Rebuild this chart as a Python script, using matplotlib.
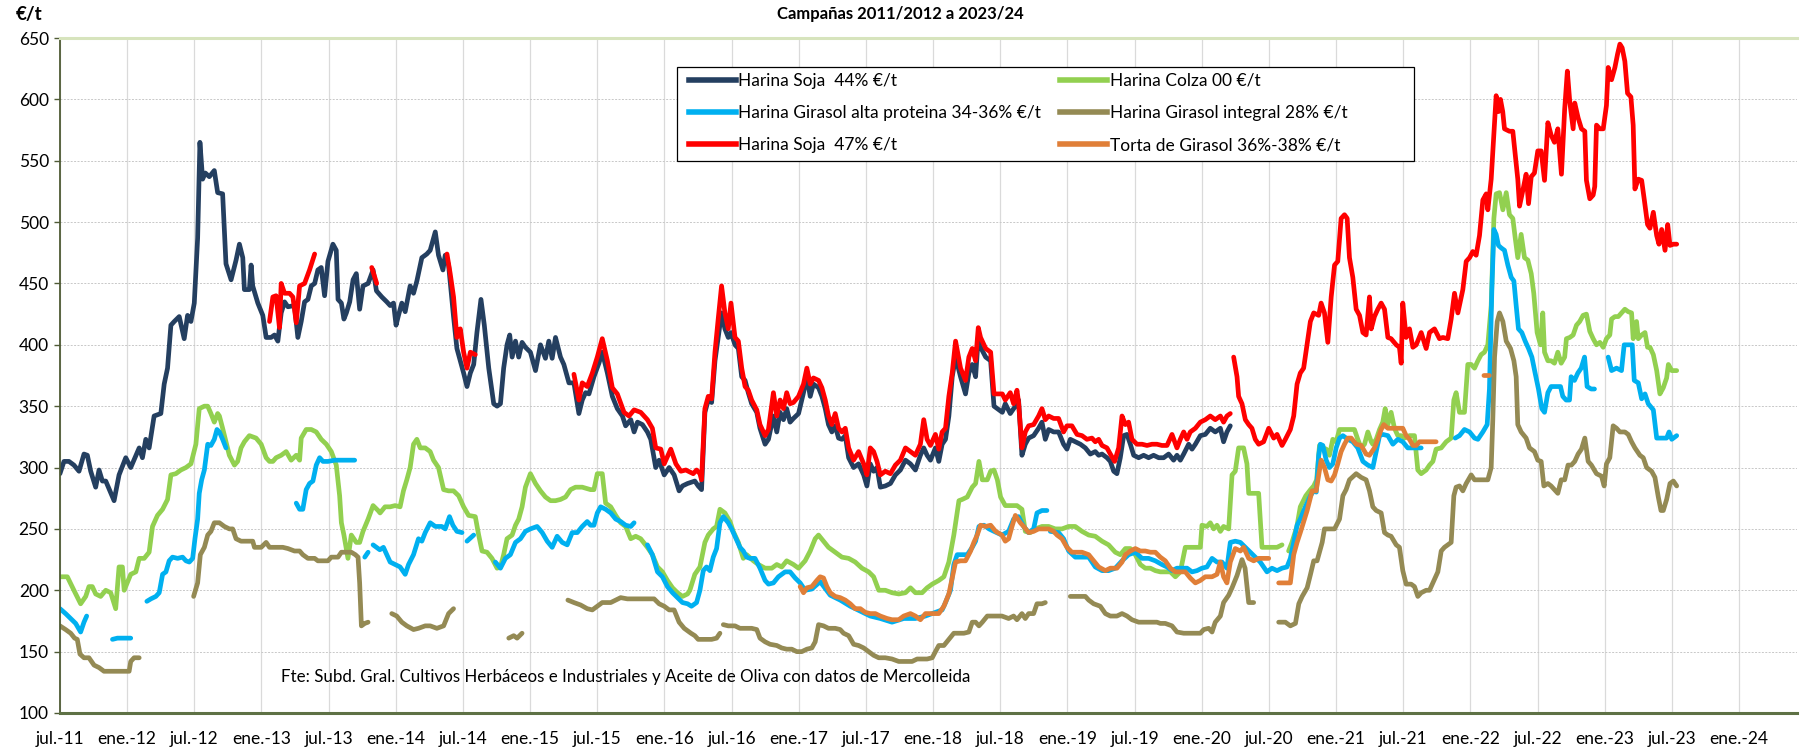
import matplotlib
matplotlib.use('Agg')
import matplotlib.pyplot as plt
from matplotlib.lines import Line2D
from matplotlib.patches import Rectangle

nan = float('nan')

# x = decimal year, y = EUR/t ; (x, nan) breaks the line
soja44 = [
    (2011.500, 295), (2011.530, 305), (2011.567, 305), (2011.604, 302), (2011.642, 297), (2011.679, 311),
    (2011.704, 310), (2011.729, 297), (2011.766, 284), (2011.791, 298), (2011.816, 289), (2011.841, 289),
    (2011.903, 273), (2011.940, 294), (2011.990, 308), (2012.027, 300), (2012.090, 316), (2012.114, 308),
    (2012.139, 323), (2012.164, 316), (2012.201, 342), (2012.251, 344), (2012.276, 368), (2012.301, 381),
    (2012.326, 416), (2012.351, 419), (2012.388, 423), (2012.425, 405), (2012.450, 424), (2012.475, 419),
    (2012.500, 434), (2012.525, 487), (2012.542, 565), (2012.562, 535), (2012.582, 540), (2012.612, 537),
    (2012.649, 542), (2012.674, 524), (2012.711, 523), (2012.736, 466), (2012.774, 453), (2012.811, 469),
    (2012.836, 482), (2012.861, 471), (2012.873, 445), (2012.910, 445), (2012.923, 465), (2012.935, 448),
    (2012.973, 434), (2013.010, 424), (2013.035, 406), (2013.072, 406), (2013.097, 408), (2013.122, 403),
    (2013.147, 426), (2013.172, 435), (2013.197, 431), (2013.246, 432), (2013.271, 406), (2013.296, 419),
    (2013.321, 435), (2013.346, 437), (2013.371, 448), (2013.396, 450), (2013.420, 461), (2013.445, 463),
    (2013.470, 440), (2013.495, 468), (2013.532, 482), (2013.557, 477), (2013.570, 437), (2013.595, 434),
    (2013.614, 421), (2013.632, 426), (2013.657, 435), (2013.682, 453), (2013.706, 458), (2013.731, 429),
    (2013.756, 448), (2013.794, 450), (2013.831, 461), (2013.856, 444), (2013.896, 439), (2013.933, 435),
    (2013.958, 432), (2013.983, 434), (2014.002, 416), (2014.020, 424), (2014.045, 434), (2014.070, 427),
    (2014.107, 448), (2014.132, 442), (2014.157, 452), (2014.194, 471), (2014.231, 474), (2014.256, 477),
    (2014.294, 492), (2014.318, 473), (2014.351, 461), (2014.368, 473), (2014.393, 465), (2014.430, 423),
    (2014.455, 397), (2014.480, 387), (2014.505, 377), (2014.530, 366), (2014.555, 377), (2014.580, 384),
    (2014.604, 410), (2014.634, 437), (2014.659, 416), (2014.692, 381), (2014.729, 352), (2014.754, 350),
    (2014.779, 352), (2014.803, 381), (2014.828, 400), (2014.848, 408), (2014.866, 390), (2014.891, 403),
    (2014.915, 390), (2014.940, 402), (2014.965, 398), (2015.002, 394), (2015.040, 379), (2015.077, 400),
    (2015.114, 389), (2015.139, 403), (2015.164, 389), (2015.189, 406), (2015.226, 390), (2015.251, 384),
    (2015.289, 369), (2015.326, 369), (2015.363, 344), (2015.388, 355), (2015.413, 361), (2015.438, 360),
    (2015.475, 374), (2015.512, 385), (2015.537, 394), (2015.575, 377), (2015.612, 358), (2015.649, 348),
    (2015.687, 342), (2015.711, 334), (2015.749, 339), (2015.774, 329), (2015.799, 337), (2015.836, 335),
    (2015.873, 329), (2015.898, 323), (2015.935, 300), (2015.960, 306), (2015.998, 294), (2016.035, 300),
    (2016.072, 294), (2016.109, 281), (2016.134, 285), (2016.172, 287), (2016.226, 289), (2016.251, 285),
    (2016.276, 282), (2016.301, 345), (2016.326, 355), (2016.351, 353), (2016.376, 387), (2016.400, 406),
    (2016.425, 426), (2016.450, 413), (2016.475, 406), (2016.495, 410), (2016.525, 400), (2016.550, 397),
    (2016.575, 374), (2016.600, 371), (2016.624, 361), (2016.649, 352), (2016.687, 345), (2016.711, 332),
    (2016.749, 319), (2016.774, 323), (2016.811, 342), (2016.836, 329), (2016.861, 345), (2016.886, 339),
    (2016.910, 348), (2016.935, 337), (2016.960, 340), (2016.998, 344), (2017.035, 361), (2017.060, 374),
    (2017.085, 358), (2017.109, 368), (2017.147, 365), (2017.172, 358), (2017.197, 348), (2017.221, 335),
    (2017.246, 329), (2017.271, 334), (2017.296, 324), (2017.321, 323), (2017.346, 326), (2017.371, 308),
    (2017.408, 300), (2017.445, 303), (2017.483, 294), (2017.507, 285), (2017.532, 303), (2017.557, 297),
    (2017.582, 300), (2017.607, 284), (2017.644, 285), (2017.682, 287), (2017.719, 294), (2017.756, 298),
    (2017.794, 306), (2017.831, 303), (2017.868, 298), (2017.905, 310), (2017.930, 316), (2017.955, 310),
    (2017.980, 306), (2018.017, 316), (2018.042, 305), (2018.067, 319), (2018.092, 323), (2018.117, 342),
    (2018.142, 374), (2018.167, 390), (2018.204, 374), (2018.241, 360), (2018.266, 377), (2018.291, 384),
    (2018.316, 374), (2018.336, 406), (2018.353, 398), (2018.391, 390), (2018.428, 387), (2018.453, 350),
    (2018.478, 348), (2018.515, 345), (2018.537, 352), (2018.574, 344), (2018.612, 350), (2018.636, 355),
    (2018.661, 310), (2018.686, 319), (2018.711, 324), (2018.748, 326), (2018.785, 332), (2018.810, 337),
    (2018.835, 323), (2018.860, 331), (2018.897, 329), (2018.934, 329), (2018.971, 319), (2018.996, 315),
    (2019.021, 323), (2019.058, 321), (2019.096, 319), (2019.133, 316), (2019.170, 311), (2019.207, 313),
    (2019.232, 310), (2019.257, 311), (2019.294, 308), (2019.319, 305), (2019.344, 297), (2019.368, 295),
    (2019.393, 308), (2019.418, 326), (2019.443, 327), (2019.468, 319), (2019.493, 310), (2019.530, 308),
    (2019.567, 310), (2019.604, 308), (2019.641, 310), (2019.679, 308), (2019.716, 308), (2019.753, 311),
    (2019.790, 306), (2019.815, 310), (2019.840, 306), (2019.865, 311), (2019.902, 319), (2019.927, 315),
    (2019.952, 319), (2019.989, 326), (2020.026, 327), (2020.063, 332), (2020.100, 329), (2020.138, 332),
    (2020.162, 321), (2020.187, 329), (2020.212, 334),
]

soja47 = [
    (2013.060, 419), (2013.085, 439), (2013.109, 440), (2013.134, 414), (2013.147, 450), (2013.172, 442),
    (2013.209, 442), (2013.234, 439), (2013.259, 418), (2013.284, 448), (2013.321, 450), (2013.358, 461),
    (2013.396, 474), (2013.600, nan),
    (2013.821, 463), (2013.858, 450), (2014.100, nan),
    (2014.381, 474), (2014.405, 458), (2014.430, 439), (2014.455, 406), (2014.480, 413), (2014.505, 394),
    (2014.530, 381), (2014.555, 394), (2014.592, 392), (2015.000, nan),
    (2015.326, 376), (2015.363, 355), (2015.388, 369), (2015.425, 366), (2015.463, 377), (2015.500, 390),
    (2015.537, 405), (2015.575, 387), (2015.612, 365), (2015.649, 360), (2015.699, 345), (2015.736, 342),
    (2015.774, 347), (2015.823, 345), (2015.873, 339), (2015.910, 332), (2015.935, 316), (2015.973, 315),
    (2015.998, 303), (2016.047, 315), (2016.085, 303), (2016.122, 297), (2016.159, 298), (2016.214, 295),
    (2016.239, 298), (2016.264, 295), (2016.276, 290), (2016.301, 348), (2016.326, 358), (2016.351, 356),
    (2016.376, 394), (2016.400, 421), (2016.425, 448), (2016.450, 426), (2016.475, 413), (2016.495, 434),
    (2016.525, 406), (2016.550, 403), (2016.575, 381), (2016.600, 366), (2016.624, 363), (2016.649, 355),
    (2016.687, 347), (2016.711, 335), (2016.749, 326), (2016.774, 331), (2016.811, 361), (2016.836, 342),
    (2016.861, 355), (2016.886, 348), (2016.910, 361), (2016.935, 352), (2016.960, 353), (2016.998, 358),
    (2017.035, 368), (2017.060, 381), (2017.085, 368), (2017.109, 373), (2017.147, 371), (2017.172, 365),
    (2017.197, 355), (2017.221, 342), (2017.246, 335), (2017.271, 344), (2017.296, 332), (2017.321, 329),
    (2017.346, 332), (2017.371, 316), (2017.408, 306), (2017.445, 313), (2017.483, 303), (2017.507, 294),
    (2017.532, 316), (2017.557, 313), (2017.582, 305), (2017.607, 294), (2017.644, 297), (2017.682, 295),
    (2017.719, 302), (2017.756, 306), (2017.794, 316), (2017.831, 313), (2017.868, 310), (2017.905, 319),
    (2017.930, 339), (2017.955, 323), (2017.980, 318), (2018.017, 327), (2018.042, 315), (2018.067, 329),
    (2018.092, 332), (2018.117, 358), (2018.142, 377), (2018.167, 403), (2018.204, 381), (2018.241, 371),
    (2018.266, 390), (2018.291, 397), (2018.316, 387), (2018.336, 414), (2018.353, 406), (2018.391, 397),
    (2018.428, 394), (2018.453, 360), (2018.478, 360), (2018.515, 360), (2018.537, 355), (2018.574, 361),
    (2018.599, 352), (2018.624, 363), (2018.636, 353), (2018.661, 316), (2018.686, 329), (2018.711, 334),
    (2018.748, 335), (2018.785, 342), (2018.810, 348), (2018.835, 339), (2018.860, 342), (2018.897, 340),
    (2018.934, 340), (2018.971, 329), (2018.996, 334), (2019.033, 334), (2019.071, 327), (2019.108, 326),
    (2019.145, 323), (2019.182, 324), (2019.207, 321), (2019.232, 323), (2019.257, 318), (2019.294, 316),
    (2019.319, 311), (2019.351, 305), (2019.381, 316), (2019.406, 342), (2019.431, 335), (2019.455, 337),
    (2019.480, 323), (2019.517, 319), (2019.555, 319), (2019.592, 318), (2019.629, 319), (2019.666, 319),
    (2019.703, 318), (2019.741, 318), (2019.778, 327), (2019.815, 316), (2019.840, 323), (2019.865, 329),
    (2019.890, 323), (2019.914, 329), (2019.952, 332), (2019.989, 337), (2020.026, 339), (2020.063, 342),
    (2020.100, 339), (2020.138, 342), (2020.162, 337), (2020.187, 342), (2020.212, 344), (2020.225, nan),
    (2020.237, 390), (2020.262, 374), (2020.274, 358), (2020.299, 352), (2020.324, 339), (2020.349, 335),
    (2020.373, 332), (2020.398, 323), (2020.423, 319), (2020.460, 321), (2020.498, 332), (2020.535, 324),
    (2020.560, 327), (2020.597, 318), (2020.622, 323), (2020.659, 331), (2020.684, 342), (2020.709, 368),
    (2020.733, 377), (2020.758, 381), (2020.783, 400), (2020.808, 419), (2020.833, 426), (2020.870, 424),
    (2020.888, 434), (2020.913, 426), (2020.938, 402), (2020.963, 439), (2020.988, 465), (2021.012, 468),
    (2021.037, 503), (2021.062, 506), (2021.082, 503), (2021.099, 471), (2021.124, 455), (2021.149, 429),
    (2021.174, 424), (2021.199, 410), (2021.223, 408), (2021.248, 439), (2021.261, 413), (2021.285, 423),
    (2021.310, 429), (2021.335, 434), (2021.360, 429), (2021.385, 406), (2021.409, 405), (2021.447, 400),
    (2021.471, 398), (2021.484, 385), (2021.496, 434), (2021.521, 406), (2021.546, 413), (2021.571, 398),
    (2021.596, 400), (2021.633, 410), (2021.670, 397), (2021.695, 410), (2021.732, 413), (2021.769, 405),
    (2021.794, 406), (2021.831, 405), (2021.856, 421), (2021.881, 442), (2021.906, 426), (2021.943, 445),
    (2021.968, 468), (2021.993, 471), (2022.017, 476), (2022.042, 473), (2022.067, 489), (2022.092, 518),
    (2022.117, 523), (2022.129, 510), (2022.154, 535), (2022.174, 571), (2022.191, 603), (2022.208, 590),
    (2022.223, 600), (2022.240, 590), (2022.253, 576), (2022.290, 574), (2022.315, 574), (2022.333, 555),
    (2022.352, 535), (2022.365, 513), (2022.390, 526), (2022.414, 539), (2022.432, 515), (2022.452, 537),
    (2022.476, 540), (2022.501, 558), (2022.526, 558), (2022.551, 534), (2022.576, 581), (2022.600, 571),
    (2022.625, 565), (2022.650, 576), (2022.677, 539), (2022.701, 592), (2022.721, 623), (2022.739, 598),
    (2022.764, 576), (2022.776, 597), (2022.801, 585), (2022.826, 576), (2022.851, 574), (2022.863, 534),
    (2022.888, 519), (2022.913, 522), (2022.925, 529), (2022.938, 579), (2022.963, 576), (2022.988, 576),
    (2023.012, 595), (2023.025, 626), (2023.050, 616), (2023.075, 626), (2023.095, 637), (2023.112, 645),
    (2023.129, 642), (2023.149, 631), (2023.169, 605), (2023.194, 602), (2023.211, 579), (2023.224, 527),
    (2023.249, 535), (2023.274, 534), (2023.294, 518), (2023.318, 498), (2023.336, 495), (2023.361, 508),
    (2023.386, 489), (2023.403, 482), (2023.423, 494), (2023.448, 477), (2023.468, 498), (2023.485, 481),
    (2023.510, 482), (2023.535, 482),
]

colza = [
    (2011.500, 211), (2011.555, 211), (2011.604, 200), (2011.654, 189), (2011.692, 195), (2011.716, 203),
    (2011.741, 203), (2011.766, 197), (2011.803, 195), (2011.841, 200), (2011.878, 198), (2011.915, 185),
    (2011.940, 219), (2011.965, 219), (2011.978, 200), (2012.027, 213), (2012.065, 215), (2012.090, 226),
    (2012.127, 226), (2012.164, 231), (2012.189, 252), (2012.226, 261), (2012.264, 266), (2012.301, 274),
    (2012.326, 294), (2012.363, 295), (2012.400, 298), (2012.438, 300), (2012.475, 303), (2012.512, 319),
    (2012.537, 348), (2012.575, 350), (2012.600, 350), (2012.624, 344), (2012.649, 337), (2012.674, 344),
    (2012.687, 342), (2012.711, 332), (2012.736, 321), (2012.761, 310), (2012.799, 302), (2012.823, 305),
    (2012.848, 316), (2012.873, 321), (2012.910, 326), (2012.960, 324), (2012.998, 319), (2013.035, 308),
    (2013.060, 305), (2013.085, 305), (2013.109, 308), (2013.147, 310), (2013.184, 313), (2013.221, 306),
    (2013.259, 310), (2013.284, 306), (2013.296, 324), (2013.333, 331), (2013.371, 331), (2013.408, 329),
    (2013.445, 323), (2013.483, 319), (2013.520, 313), (2013.557, 302), (2013.582, 277), (2013.595, 255),
    (2013.614, 245), (2013.644, 226), (2013.669, 245), (2013.706, 239), (2013.731, 239), (2013.756, 248),
    (2013.794, 258), (2013.831, 269), (2013.868, 265), (2013.883, 263), (2013.920, 268), (2013.958, 268),
    (2013.995, 269), (2014.032, 268), (2014.057, 281), (2014.082, 290), (2014.107, 300), (2014.132, 319),
    (2014.157, 323), (2014.182, 316), (2014.219, 316), (2014.256, 313), (2014.281, 306), (2014.318, 300),
    (2014.356, 282), (2014.393, 281), (2014.430, 281), (2014.468, 277), (2014.505, 268), (2014.542, 261),
    (2014.592, 260), (2014.617, 245), (2014.642, 232), (2014.679, 231), (2014.716, 226), (2014.754, 218),
    (2014.779, 219), (2014.803, 229), (2014.828, 242), (2014.866, 245), (2014.891, 253), (2014.915, 258),
    (2014.940, 268), (2014.965, 284), (2015.002, 295), (2015.040, 287), (2015.077, 281), (2015.114, 276),
    (2015.152, 273), (2015.189, 273), (2015.226, 274), (2015.264, 276), (2015.301, 282), (2015.338, 284),
    (2015.388, 284), (2015.450, 282), (2015.475, 282), (2015.500, 295), (2015.537, 295), (2015.562, 271),
    (2015.600, 268), (2015.637, 261), (2015.674, 255), (2015.711, 252), (2015.749, 242), (2015.786, 244),
    (2015.823, 242), (2015.873, 235), (2015.910, 229), (2015.948, 219), (2015.985, 215), (2016.022, 208),
    (2016.060, 202), (2016.097, 198), (2016.134, 195), (2016.172, 197), (2016.189, 200), (2016.226, 213),
    (2016.264, 219), (2016.301, 239), (2016.326, 245), (2016.363, 250), (2016.388, 252), (2016.413, 266),
    (2016.450, 263), (2016.488, 256), (2016.512, 248), (2016.550, 239), (2016.587, 226), (2016.612, 229),
    (2016.662, 224), (2016.699, 221), (2016.749, 218), (2016.799, 218), (2016.836, 221), (2016.873, 219),
    (2016.910, 224), (2016.960, 221), (2016.998, 218), (2017.047, 224), (2017.085, 232), (2017.122, 242),
    (2017.147, 245), (2017.184, 240), (2017.221, 235), (2017.271, 231), (2017.321, 227), (2017.371, 226),
    (2017.420, 223), (2017.470, 218), (2017.520, 215), (2017.557, 211), (2017.595, 200), (2017.644, 200),
    (2017.694, 198), (2017.744, 197), (2017.794, 198), (2017.831, 202), (2017.868, 198), (2017.918, 198),
    (2017.955, 202), (2017.993, 205), (2018.042, 208), (2018.080, 211), (2018.117, 223), (2018.154, 245),
    (2018.192, 273), (2018.216, 274), (2018.254, 276), (2018.291, 284), (2018.316, 287), (2018.341, 305),
    (2018.366, 290), (2018.403, 290), (2018.428, 297), (2018.453, 298), (2018.478, 290), (2018.502, 276),
    (2018.537, 269), (2018.574, 269), (2018.624, 269), (2018.661, 266), (2018.686, 248), (2018.723, 247),
    (2018.761, 250), (2018.810, 252), (2018.860, 252), (2018.909, 250), (2018.959, 250), (2019.009, 252),
    (2019.058, 252), (2019.108, 248), (2019.158, 245), (2019.207, 244), (2019.257, 240), (2019.306, 237),
    (2019.356, 231), (2019.393, 229), (2019.431, 234), (2019.468, 234), (2019.505, 229), (2019.542, 221),
    (2019.579, 218), (2019.617, 218), (2019.654, 216), (2019.691, 215), (2019.728, 215), (2019.766, 215),
    (2019.803, 211), (2019.840, 215), (2019.877, 235), (2019.914, 235), (2019.952, 235), (2019.989, 235),
    (2020.001, 253), (2020.038, 252), (2020.063, 255), (2020.088, 250), (2020.113, 253), (2020.138, 248),
    (2020.162, 252), (2020.200, 250), (2020.225, 294), (2020.249, 297), (2020.274, 316), (2020.311, 316),
    (2020.336, 303), (2020.349, 279), (2020.386, 279), (2020.423, 279), (2020.448, 235), (2020.485, 235),
    (2020.522, 235), (2020.560, 235), (2020.597, 237), (2020.620, nan),
    (2020.646, 232), (2020.671, 239), (2020.708, 252), (2020.733, 268), (2020.774, 277), (2020.809, 282),
    (2020.833, 285), (2020.855, 290), (2020.876, 318), (2020.901, 316), (2020.926, 315), (2020.950, 310),
    (2020.975, 323), (2021.000, 321), (2021.025, 331), (2021.062, 331), (2021.099, 331), (2021.136, 331),
    (2021.161, 323), (2021.186, 316), (2021.211, 319), (2021.236, 329), (2021.261, 321), (2021.273, 319),
    (2021.298, 323), (2021.323, 331), (2021.347, 337), (2021.365, 348), (2021.385, 335), (2021.409, 345),
    (2021.434, 332), (2021.459, 326), (2021.484, 326), (2021.509, 324), (2021.546, 326), (2021.583, 326),
    (2021.608, 298), (2021.633, 295), (2021.670, 298), (2021.695, 302), (2021.720, 305), (2021.744, 315),
    (2021.782, 316), (2021.819, 321), (2021.856, 324), (2021.876, 355), (2021.893, 361), (2021.918, 345),
    (2021.955, 345), (2021.980, 384), (2022.005, 384), (2022.030, 381), (2022.055, 387), (2022.079, 392),
    (2022.104, 394), (2022.129, 400), (2022.154, 432), (2022.174, 503), (2022.191, 523), (2022.216, 524),
    (2022.241, 510), (2022.266, 524), (2022.290, 506), (2022.315, 503), (2022.333, 487), (2022.352, 471),
    (2022.377, 490), (2022.402, 471), (2022.427, 469), (2022.452, 458), (2022.471, 442), (2022.496, 410),
    (2022.521, 400), (2022.538, 426), (2022.551, 394), (2022.576, 387), (2022.600, 387), (2022.625, 385),
    (2022.650, 394), (2022.675, 385), (2022.701, 390), (2022.714, 405), (2022.739, 406), (2022.764, 408),
    (2022.789, 416), (2022.813, 419), (2022.838, 424), (2022.863, 425), (2022.888, 411), (2022.913, 405),
    (2022.938, 400), (2022.963, 402), (2022.988, 398), (2023.012, 405), (2023.037, 408), (2023.050, 421),
    (2023.075, 423), (2023.100, 423), (2023.124, 426), (2023.149, 429), (2023.174, 427), (2023.199, 426),
    (2023.211, 405), (2023.236, 419), (2023.249, 405), (2023.274, 408), (2023.299, 410), (2023.318, 398),
    (2023.336, 398), (2023.361, 392), (2023.386, 379), (2023.410, 360), (2023.435, 365), (2023.460, 373),
    (2023.473, 384), (2023.498, 379), (2023.535, 379),
]

girasol_alta = [
    (2011.500, 185), (2011.542, 181), (2011.580, 177), (2011.617, 173), (2011.654, 166), (2011.679, 174),
    (2011.699, 179), (2011.800, nan),
    (2011.891, 160), (2011.928, 161), (2011.965, 161), (2012.027, 161), (2012.090, nan),
    (2012.147, 191), (2012.177, 193), (2012.214, 195), (2012.239, 198), (2012.264, 213), (2012.289, 215),
    (2012.313, 224), (2012.338, 227), (2012.376, 226), (2012.413, 227), (2012.438, 224), (2012.463, 223),
    (2012.488, 226), (2012.505, 242), (2012.525, 258), (2012.537, 279), (2012.555, 290), (2012.575, 298),
    (2012.600, 319), (2012.624, 318), (2012.649, 323), (2012.669, 331), (2012.687, 329), (2012.711, 323),
    (2012.736, 316), (2013.000, nan),
    (2013.259, 271), (2013.284, 266), (2013.308, 266), (2013.333, 282), (2013.358, 287), (2013.383, 289),
    (2013.408, 302), (2013.433, 308), (2013.458, 305), (2013.495, 305), (2013.545, 306), (2013.595, 306),
    (2013.644, 306), (2013.694, 306), (2013.730, nan),
    (2013.769, 227), (2013.794, 231), (2013.812, nan),
    (2013.831, 237), (2013.856, 235), (2013.881, 233), (2013.908, 235), (2013.933, 229), (2013.958, 223),
    (2013.995, 221), (2014.032, 219), (2014.070, 213), (2014.095, 221), (2014.132, 229), (2014.169, 242),
    (2014.194, 240), (2014.219, 247), (2014.256, 255), (2014.294, 252), (2014.343, 252), (2014.368, 250),
    (2014.400, 260), (2014.425, 253), (2014.455, 248), (2014.493, 247), (2014.512, nan),
    (2014.530, 240), (2014.580, 245), (2014.660, nan),
    (2014.741, 223), (2014.779, 218), (2014.816, 226), (2014.853, 229), (2014.891, 239), (2014.928, 242),
    (2014.965, 248), (2015.002, 250), (2015.052, 252), (2015.090, 247), (2015.127, 240), (2015.164, 235),
    (2015.201, 244), (2015.239, 239), (2015.276, 237), (2015.313, 247), (2015.351, 247), (2015.388, 252),
    (2015.425, 256), (2015.450, 253), (2015.475, 253), (2015.500, 263), (2015.525, 268), (2015.562, 266),
    (2015.600, 263), (2015.637, 258), (2015.674, 256), (2015.711, 253), (2015.749, 252), (2015.774, 255),
    (2015.820, nan),
    (2015.873, 237), (2015.910, 229), (2015.948, 215), (2015.985, 211), (2016.022, 203), (2016.060, 198),
    (2016.097, 194), (2016.134, 190), (2016.172, 189), (2016.201, 187), (2016.239, 190), (2016.264, 200),
    (2016.289, 216), (2016.313, 219), (2016.338, 216), (2016.363, 227), (2016.388, 234), (2016.413, 255),
    (2016.438, 260), (2016.475, 255), (2016.500, 250), (2016.525, 244), (2016.562, 235), (2016.587, 232),
    (2016.612, 227), (2016.637, 226), (2016.674, 226), (2016.711, 218), (2016.749, 208), (2016.774, 205),
    (2016.811, 206), (2016.848, 211), (2016.898, 215), (2016.935, 215), (2016.973, 210), (2017.010, 206),
    (2017.047, 200), (2017.097, 201), (2017.159, 207), (2017.234, 196), (2017.308, 192), (2017.383, 187),
    (2017.458, 183), (2017.532, 179), (2017.607, 177), (2017.694, 174), (2017.781, 177), (2017.868, 177),
    (2017.942, 179), (2018.067, 184), (2018.092, 190), (2018.129, 200), (2018.154, 221), (2018.179, 229),
    (2018.216, 229), (2018.254, 229), (2018.291, 235), (2018.316, 240), (2018.341, 252), (2018.378, 253),
    (2018.416, 250), (2018.453, 248), (2018.512, 245), (2018.562, 248), (2018.599, 258), (2018.636, 260),
    (2018.674, 252), (2018.711, 247), (2018.748, 250), (2018.773, 263), (2018.810, 265), (2018.847, 265),
    (2018.860, nan),
    (2018.872, 248), (2018.934, 247), (2018.971, 242), (2019.009, 232), (2019.058, 227), (2019.108, 227),
    (2019.158, 227), (2019.207, 219), (2019.257, 216), (2019.306, 216), (2019.356, 218), (2019.406, 224),
    (2019.455, 229), (2019.505, 231), (2019.555, 226), (2019.604, 226), (2019.654, 224), (2019.703, 221),
    (2019.741, 219), (2019.778, 216), (2019.815, 218), (2019.852, 218), (2019.890, 218), (2019.927, 215),
    (2019.964, 216), (2020.001, 218), (2020.038, 219), (2020.076, 226), (2020.113, 223), (2020.150, 223),
    (2020.187, 218), (2020.212, 239), (2020.249, 240), (2020.287, 239), (2020.324, 235), (2020.361, 231),
    (2020.398, 227), (2020.435, 223), (2020.460, 219), (2020.485, 215), (2020.522, 218), (2020.560, 216),
    (2020.597, 218), (2020.634, 219), (2020.659, 226), (2020.684, 239), (2020.709, 253), (2020.733, 258),
    (2020.771, 268), (2020.808, 277), (2020.833, 281), (2020.852, 280), (2020.870, 310), (2020.882, 319),
    (2020.901, 318), (2020.926, 306), (2020.950, 300), (2020.975, 303), (2021.000, 316), (2021.025, 324),
    (2021.050, 326), (2021.087, 323), (2021.124, 321), (2021.161, 316), (2021.199, 305), (2021.236, 302),
    (2021.273, 300), (2021.298, 313), (2021.323, 326), (2021.347, 327), (2021.385, 326), (2021.422, 319),
    (2021.459, 323), (2021.496, 321), (2021.533, 316), (2021.571, 316), (2021.608, 316), (2021.633, 316),
    (2021.760, nan),
    (2021.886, 324), (2021.918, 326), (2021.955, 331), (2021.993, 329), (2022.030, 324), (2022.055, 323),
    (2022.092, 329), (2022.124, 335), (2022.141, 364), (2022.159, 445), (2022.174, 494), (2022.191, 490),
    (2022.208, 481), (2022.228, 479), (2022.253, 477), (2022.278, 465), (2022.303, 455), (2022.323, 452),
    (2022.340, 432), (2022.357, 413), (2022.382, 410), (2022.407, 403), (2022.432, 397), (2022.457, 390),
    (2022.481, 377), (2022.506, 364), (2022.531, 348), (2022.551, 345), (2022.576, 361), (2022.600, 366),
    (2022.638, 366), (2022.670, 366), (2022.687, 358), (2022.712, 355), (2022.737, 355), (2022.749, 374),
    (2022.774, 371), (2022.799, 377), (2022.824, 381), (2022.849, 390), (2022.868, 366), (2022.898, 364),
    (2022.923, 364), (2022.970, nan),
    (2023.025, 390), (2023.050, 379), (2023.087, 381), (2023.124, 379), (2023.144, 400), (2023.174, 400),
    (2023.204, 400), (2023.219, 371), (2023.249, 369), (2023.274, 356), (2023.299, 360), (2023.323, 352),
    (2023.361, 347), (2023.386, 324), (2023.423, 324), (2023.460, 324), (2023.478, 329), (2023.498, 323),
    (2023.535, 326),
]

girasol_integral = [
    (2011.500, 171), (2011.542, 168), (2011.580, 165), (2011.609, 161), (2011.629, 160), (2011.649, 148),
    (2011.679, 145), (2011.716, 145), (2011.754, 139), (2011.791, 137), (2011.828, 134), (2011.878, 134),
    (2011.928, 134), (2011.978, 134), (2012.015, 134), (2012.027, 142), (2012.052, 145), (2012.090, 145),
    (2012.300, nan),
    (2012.495, 195), (2012.525, 206), (2012.545, 229), (2012.575, 235), (2012.600, 245), (2012.624, 248),
    (2012.649, 255), (2012.687, 255), (2012.724, 252), (2012.761, 250), (2012.786, 250), (2012.811, 242),
    (2012.848, 240), (2012.898, 240), (2012.935, 240), (2012.948, 235), (2012.998, 235), (2013.035, 239),
    (2013.060, 235), (2013.109, 235), (2013.159, 235), (2013.197, 234), (2013.246, 232), (2013.284, 232),
    (2013.308, 229), (2013.346, 226), (2013.396, 226), (2013.420, 224), (2013.495, 224), (2013.520, 227),
    (2013.570, 227), (2013.595, 231), (2013.619, 231), (2013.669, 231), (2013.699, 229), (2013.719, 227),
    (2013.731, 206), (2013.744, 171), (2013.769, 173), (2013.794, 174), (2013.880, nan),
    (2013.970, 181), (2014.007, 179), (2014.045, 174), (2014.082, 171), (2014.132, 168), (2014.169, 169),
    (2014.219, 171), (2014.256, 171), (2014.306, 169), (2014.356, 171), (2014.393, 181), (2014.430, 185),
    (2014.600, nan),
    (2014.841, 161), (2014.878, 163), (2014.903, 161), (2014.940, 165), (2015.100, nan),
    (2015.281, 192), (2015.326, 190), (2015.376, 188), (2015.425, 185), (2015.463, 184), (2015.500, 187),
    (2015.537, 190), (2015.600, 190), (2015.637, 192), (2015.674, 194), (2015.724, 193), (2015.799, 193),
    (2015.848, 193), (2015.923, 193), (2015.960, 189), (2015.998, 187), (2016.035, 184), (2016.072, 184),
    (2016.109, 174), (2016.147, 169), (2016.197, 165), (2016.226, 163), (2016.251, 160), (2016.301, 160),
    (2016.351, 160), (2016.388, 161), (2016.413, 165), (2016.426, nan),
    (2016.438, 172), (2016.475, 171), (2016.525, 171), (2016.562, 169), (2016.600, 169), (2016.649, 169),
    (2016.687, 168), (2016.711, 161), (2016.749, 158), (2016.786, 156), (2016.836, 155), (2016.873, 153),
    (2016.910, 152), (2016.948, 152), (2016.985, 150), (2017.022, 150), (2017.060, 152), (2017.097, 153),
    (2017.122, 158), (2017.147, 172), (2017.184, 171), (2017.221, 169), (2017.271, 169), (2017.308, 168),
    (2017.333, 165), (2017.371, 163), (2017.408, 156), (2017.445, 155), (2017.483, 153), (2017.520, 150),
    (2017.557, 147), (2017.595, 145), (2017.644, 145), (2017.694, 144), (2017.744, 142), (2017.794, 142),
    (2017.843, 142), (2017.881, 144), (2017.918, 144), (2017.955, 144), (2017.993, 145), (2018.017, 150),
    (2018.042, 155), (2018.080, 155), (2018.117, 160), (2018.154, 165), (2018.192, 165), (2018.229, 165),
    (2018.266, 166), (2018.291, 174), (2018.316, 174), (2018.341, 171), (2018.366, 174), (2018.403, 179),
    (2018.441, 179), (2018.478, 179), (2018.512, 179), (2018.562, 177), (2018.599, 179), (2018.624, 176),
    (2018.661, 181), (2018.686, 177), (2018.711, 181), (2018.748, 181), (2018.773, 189), (2018.810, 189),
    (2018.835, 190), (2018.930, nan),
    (2019.021, 195), (2019.071, 195), (2019.133, 195), (2019.158, 192), (2019.195, 189), (2019.244, 187),
    (2019.282, 181), (2019.319, 179), (2019.368, 179), (2019.406, 181), (2019.443, 179), (2019.480, 176),
    (2019.530, 174), (2019.579, 174), (2019.629, 174), (2019.666, 174), (2019.691, 173), (2019.728, 173),
    (2019.778, 171), (2019.815, 166), (2019.865, 165), (2019.927, 165), (2019.989, 165), (2020.014, 168),
    (2020.051, 169), (2020.076, 166), (2020.100, 174), (2020.138, 179), (2020.162, 190), (2020.200, 196),
    (2020.225, 202), (2020.262, 212), (2020.299, 225), (2020.322, 218), (2020.349, 190), (2020.386, 190),
    (2020.480, nan),
    (2020.572, 174), (2020.622, 174), (2020.659, 171), (2020.697, 173), (2020.722, 189), (2020.747, 195),
    (2020.784, 202), (2020.809, 213), (2020.833, 224), (2020.858, 224), (2020.896, 239), (2020.913, 250),
    (2020.950, 250), (2020.988, 250), (2021.025, 258), (2021.050, 277), (2021.074, 282), (2021.099, 290),
    (2021.149, 295), (2021.186, 292), (2021.223, 290), (2021.248, 281), (2021.273, 268), (2021.298, 265),
    (2021.335, 263), (2021.360, 247), (2021.385, 245), (2021.409, 244), (2021.447, 237), (2021.471, 235),
    (2021.496, 216), (2021.521, 205), (2021.558, 205), (2021.583, 203), (2021.608, 195), (2021.633, 198),
    (2021.670, 200), (2021.695, 200), (2021.720, 206), (2021.757, 215), (2021.782, 232), (2021.806, 235),
    (2021.831, 237), (2021.856, 239), (2021.876, 277), (2021.893, 284), (2021.918, 285), (2021.943, 281),
    (2021.968, 287), (2022.005, 294), (2022.030, 290), (2022.067, 290), (2022.104, 290), (2022.129, 290),
    (2022.154, 300), (2022.166, 339), (2022.179, 390), (2022.199, 419), (2022.216, 426), (2022.241, 419),
    (2022.266, 403), (2022.298, 397), (2022.323, 387), (2022.340, 374), (2022.352, 335), (2022.377, 329),
    (2022.414, 324), (2022.439, 316), (2022.476, 313), (2022.501, 306), (2022.526, 305), (2022.546, 285),
    (2022.576, 287), (2022.600, 285), (2022.625, 282), (2022.650, 279), (2022.675, 290), (2022.701, 290),
    (2022.726, 302), (2022.751, 302), (2022.776, 305), (2022.801, 311), (2022.826, 315), (2022.851, 324),
    (2022.876, 305), (2022.900, 302), (2022.938, 295), (2022.975, 293), (2022.995, 285), (2023.012, 303),
    (2023.037, 308), (2023.062, 334), (2023.087, 332), (2023.112, 329), (2023.149, 329), (2023.174, 327),
    (2023.199, 321), (2023.224, 316), (2023.261, 310), (2023.286, 308), (2023.311, 300), (2023.348, 297),
    (2023.373, 292), (2023.398, 276), (2023.418, 265), (2023.435, 265), (2023.460, 274), (2023.485, 287),
    (2023.510, 289), (2023.535, 285),
]

torta_girasol = [
    (2017.010, 203), (2017.035, 198), (2017.060, 202), (2017.097, 203), (2017.134, 208), (2017.159, 211),
    (2017.184, 210), (2017.209, 203), (2017.234, 198), (2017.271, 195), (2017.308, 194), (2017.346, 192),
    (2017.383, 189), (2017.420, 185), (2017.458, 185), (2017.495, 182), (2017.532, 181), (2017.570, 181),
    (2017.607, 179), (2017.657, 177), (2017.694, 176), (2017.744, 176), (2017.781, 179), (2017.831, 181),
    (2017.868, 179), (2017.905, 176), (2017.943, 181), (2017.993, 181), (2018.042, 181), (2018.080, 187),
    (2018.117, 197), (2018.142, 210), (2018.167, 223), (2018.204, 224), (2018.241, 224), (2018.279, 232),
    (2018.303, 239), (2018.328, 245), (2018.353, 253), (2018.391, 252), (2018.428, 253), (2018.465, 248),
    (2018.512, 245), (2018.537, 240), (2018.562, 242), (2018.587, 252), (2018.612, 261), (2018.649, 255),
    (2018.674, 252), (2018.711, 247), (2018.748, 248), (2018.785, 250), (2018.823, 250), (2018.860, 250),
    (2018.897, 248), (2018.922, 245), (2018.959, 242), (2018.996, 235), (2019.033, 231), (2019.071, 231),
    (2019.108, 231), (2019.158, 229), (2019.195, 224), (2019.232, 219), (2019.282, 216), (2019.319, 218),
    (2019.368, 218), (2019.406, 223), (2019.431, 229), (2019.468, 232), (2019.505, 234), (2019.542, 232),
    (2019.579, 232), (2019.617, 231), (2019.654, 231), (2019.691, 227), (2019.728, 224), (2019.766, 218),
    (2019.803, 215), (2019.840, 215), (2019.877, 215), (2019.914, 210), (2019.952, 206), (2019.989, 208),
    (2020.026, 211), (2020.076, 211), (2020.113, 213), (2020.138, 223), (2020.162, 211), (2020.187, 206),
    (2020.212, 223), (2020.249, 234), (2020.287, 232), (2020.311, 235), (2020.349, 226), (2020.386, 224),
    (2020.423, 226), (2020.460, 226), (2020.498, 226), (2020.535, nan),
    (2020.572, 206), (2020.609, 206), (2020.659, 206), (2020.684, 229), (2020.709, 239), (2020.733, 247),
    (2020.784, 265), (2020.821, 281), (2020.851, 281), (2020.888, 306), (2020.913, 300), (2020.938, 290),
    (2020.963, 289), (2020.988, 294), (2021.012, 303), (2021.037, 313), (2021.062, 319), (2021.087, 324),
    (2021.112, 324), (2021.149, 319), (2021.186, 318), (2021.223, 311), (2021.248, 310), (2021.285, 316),
    (2021.310, 323), (2021.335, 331), (2021.355, 335), (2021.385, 332), (2021.422, 332), (2021.459, 332),
    (2021.496, 332), (2021.521, 326), (2021.546, 323), (2021.571, 318), (2021.596, 318), (2021.620, 321),
    (2021.658, 321), (2021.695, 321), (2021.744, 321), (2021.900, nan),
    (2022.100, 375), (2022.140, 375),
]

# draw order follows the original workbook
series = [
    ('Harina Soja  44% €/t', soja44, '#243F60'),
    ('Harina Colza 00 €/t', colza, '#92D050'),
    ('Harina Girasol alta proteina 34-36% €/t', girasol_alta, '#00B0F0'),
    ('Harina Girasol integral 28% €/t', girasol_integral, '#948A54'),
    ('Harina Soja  47% €/t', soja47, '#FF0000'),
    ('Torta de Girasol 36%-38% €/t', torta_girasol, '#E07F38'),
]

tick_pos = [2011.5 + 0.5 * i for i in range(26)]
tick_lab = []
for p in tick_pos:
    yy = int(p) % 100
    tick_lab.append(('jul.-%02d' if p % 1 else 'ene.-%02d') % yy)

plt.rcParams['font.family'] = ['Lato', 'DejaVu Sans']

fig = plt.figure(figsize=(18, 7.51), dpi=100, facecolor='white')
ax = fig.add_axes([0.0333, 0.0506, 0.965, 0.8988])

for name, data, col in series:
    xs = [d[0] for d in data]
    ys = [d[1] for d in data]
    ax.plot(xs, ys, color=col, lw=3.4, solid_joinstyle='round', solid_capstyle='round', label=name)

ax.set_xlim(2011.5, 2024.43)
ax.set_ylim(100, 650)
ax.set_yticks(range(100, 651, 50))
ax.set_xticks(tick_pos)
ax.set_xticklabels(tick_lab, fontsize=12.5)
ax.tick_params(axis='x', length=0, pad=13)
ax.tick_params(axis='y', length=4, width=1, color='#4F5B35', labelsize=12.5, pad=4)

ax.yaxis.grid(True, color='#C8C8C8', lw=0.7, ls=(0, (2, 1.5)))
ax.xaxis.grid(True, color='#DADADA', lw=0.9, ls='-')
ax.set_axisbelow(True)

ax.spines['right'].set_visible(False)
ax.spines['top'].set_color('#D7E4BD')
ax.spines['top'].set_linewidth(2.2)
ax.spines['left'].set_color('#4F5B35')
ax.spines['left'].set_linewidth(1.3)
ax.spines['bottom'].set_color('#5E7145')
ax.spines['bottom'].set_linewidth(2.2)

# legend frame drawn separately (Excel box is wider than its content)
ax.add_patch(Rectangle((0.355, 0.818), 0.4245, 0.139, transform=ax.transAxes, fill=True,
                       facecolor='white', edgecolor='black', lw=0.9, zorder=4))
handles = [Line2D([], [], color=c, lw=4) for _, _, c in series]
labels = [n for n, _, _ in series]
# original legend fills row-wise; matplotlib fills column-wise
order = [0, 2, 4, 1, 3, 5]
leg = ax.legend([handles[i] for i in order], [labels[i] for i in order], ncol=2,
                loc='upper left', bbox_to_anchor=(0.359, 0.956), fontsize=12.5, frameon=False,
                handlelength=2.7, handletextpad=0.15, labelspacing=0.93, columnspacing=1.1,
                borderpad=0.3, borderaxespad=0)
leg.set_zorder(5)

ax.text(0.127, 0.053, 'Fte: Subd. Gral. Cultivos Herbáceos e Industriales y Aceite de Oliva con datos de Mercolleida',
        transform=ax.transAxes, fontsize=12.2, va='center', ha='left')

fig.text(0.5, 0.982, 'Campañas 2011/2012 a 2023/24', ha='center', va='center', fontsize=12, fontweight='bold')
fig.text(0.0085, 0.981, '€/t', ha='left', va='center', fontsize=13.5, fontweight='bold')

fig.savefig('out.png', dpi=100, facecolor='white')
